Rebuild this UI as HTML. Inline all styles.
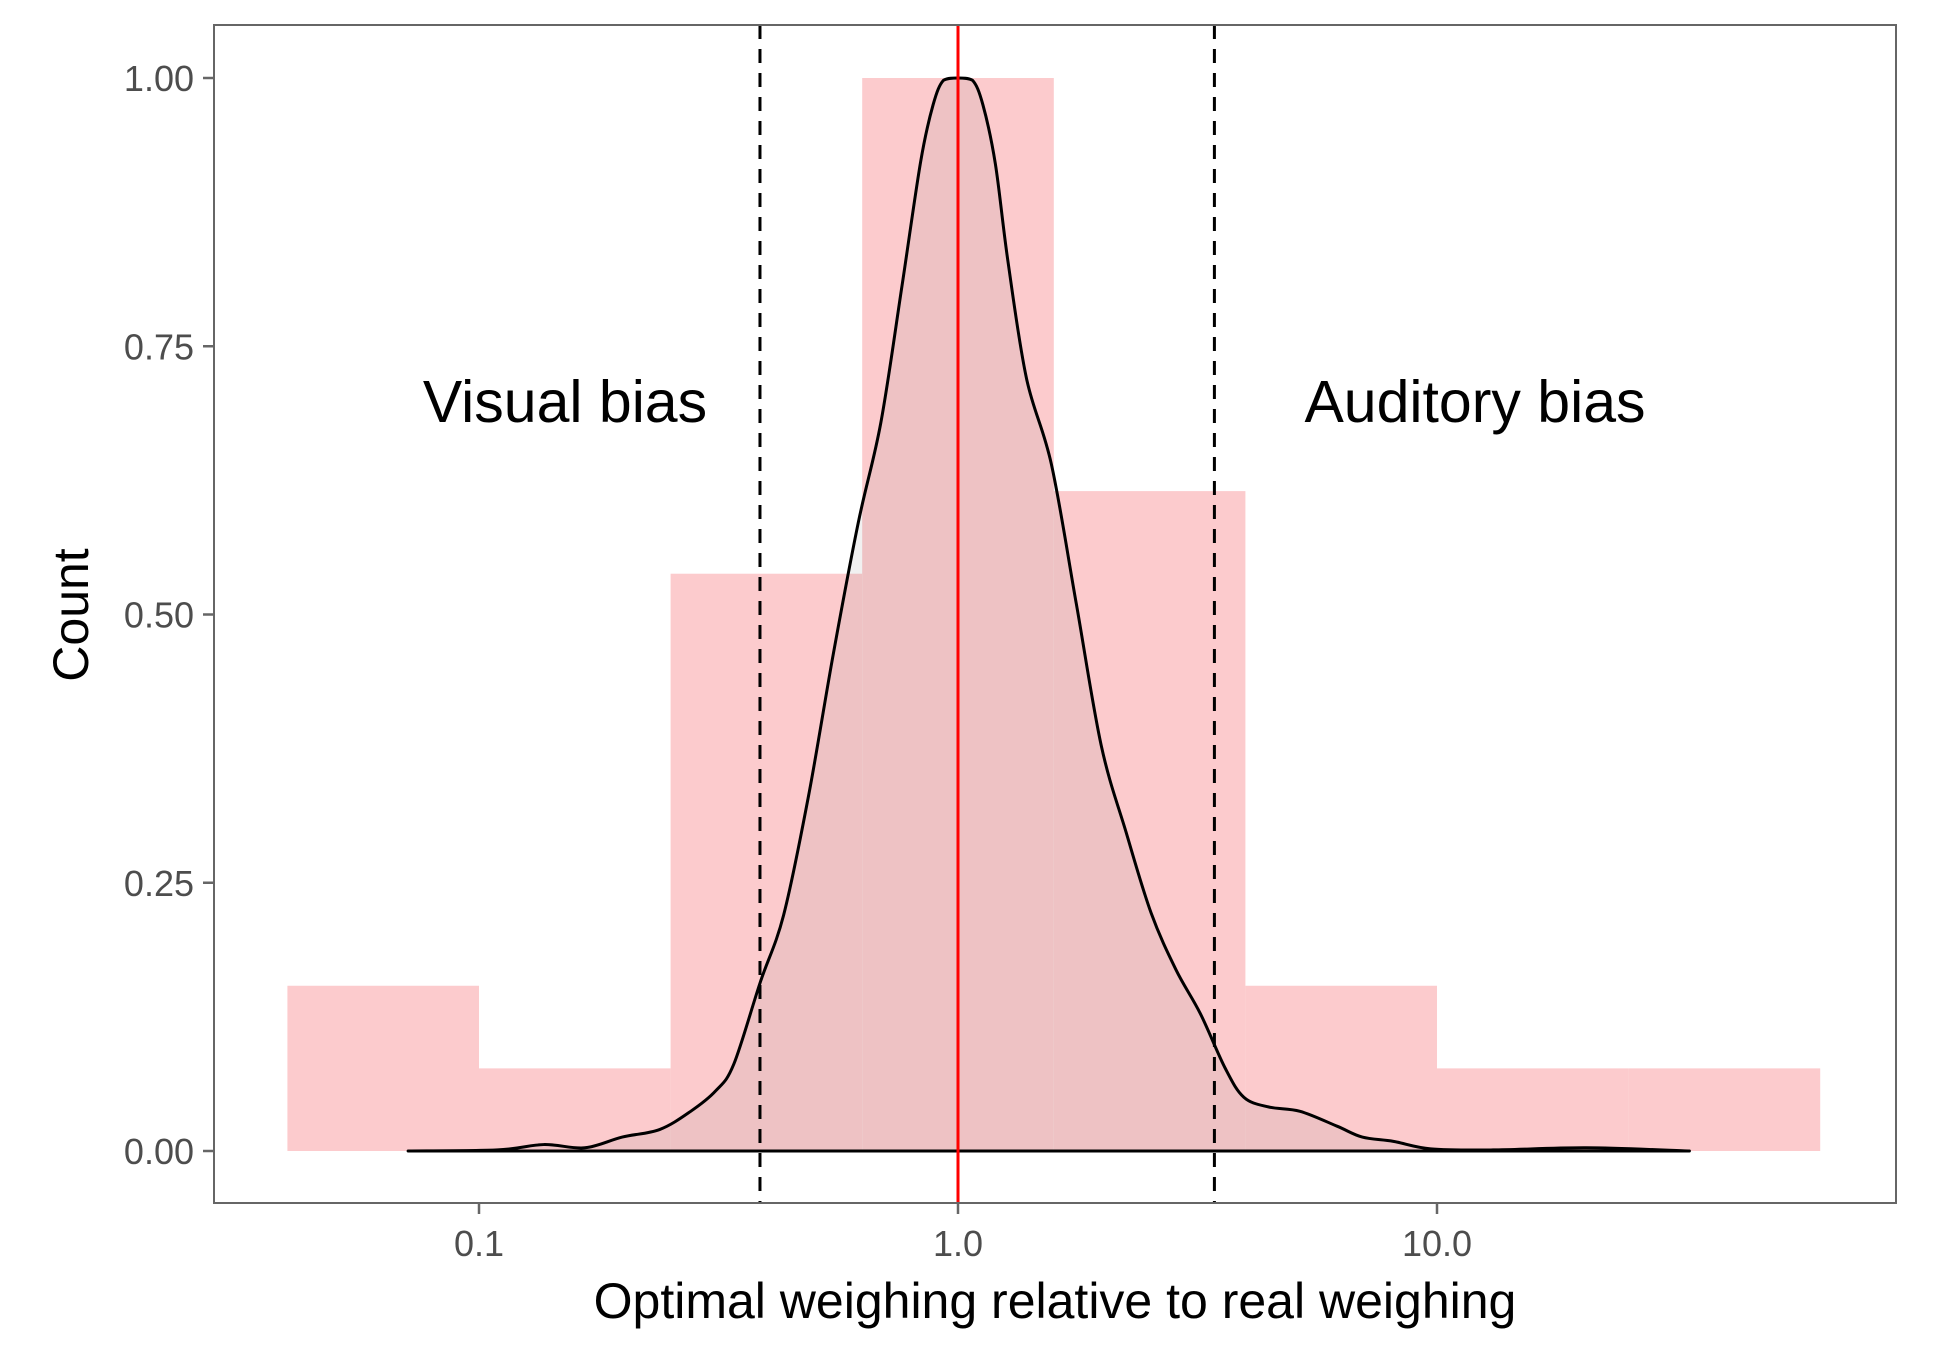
<!DOCTYPE html>
<html><head><meta charset="utf-8"><style>
html,body{margin:0;padding:0;background:#fff;}
svg{display:block;font-family:"Liberation Sans",Arial,sans-serif;}
</style></head><body>
<svg id="chart" width="1950" height="1350" viewBox="0 0 1950 1350">
<rect x="0" y="0" width="1950" height="1350" fill="#fff"/>
<g id="bars"></g>
<g id="dens"></g>
<g id="vlines"></g>
<rect x="214" y="25" width="1682" height="1178" fill="none" stroke="#666" stroke-width="2"/>
<g id="axes"></g>
<text x="565" y="422" font-size="59" text-anchor="middle" fill="#000">Visual bias</text>
<text x="1475" y="422" font-size="59" text-anchor="middle" fill="#000">Auditory bias</text>
<text x="1055" y="1318" font-size="50" text-anchor="middle" fill="#000">Optimal weighing relative to real weighing</text>
<text transform="translate(88,615) rotate(-90)" font-size="50" text-anchor="middle" fill="#000">Count</text>
</svg>
<script>
const binEdgesLog = [-1.4,-1.0,-0.6,-0.2,0.2,0.6,1.0,1.4,1.8];
const binHeights = [0.154,0.077,0.538,1.0,0.615,0.154,0.077,0.077];
const densX = [-1.148,-0.961,-0.865,-0.779,-0.701,-0.623,-0.558,-0.506,-0.468,-0.413,-0.364,-0.312,-0.260,-0.208,-0.161,-0.117,-0.078,-0.052,-0.030,0.0,0.030,0.052,0.078,0.104,0.143,0.195,0.247,0.299,0.351,0.403,0.455,0.506,0.558,0.597,0.649,0.714,0.792,0.844,0.909,0.987,1.117,1.312,1.527];
const densY = [0,0.001,0.006,0.003,0.013,0.020,0.037,0.056,0.081,0.157,0.220,0.331,0.464,0.586,0.679,0.806,0.922,0.975,0.998,1.0,0.998,0.975,0.920,0.830,0.720,0.640,0.510,0.378,0.297,0.222,0.169,0.128,0.077,0.050,0.041,0.037,0.023,0.013,0.009,0.002,0.001,0.003,0];
const dashedLinesX = [0.386,3.43];
const redLineX = [1.0];
const xTickValues = [0.1,1.0,10.0];
const xTickLabels = ["0.1","1.0","10.0"];
const yTickValues = [0,0.25,0.5,0.75,1.0];
const yTickLabels = ["0.00","0.25","0.50","0.75","1.00"];

const NS="http://www.w3.org/2000/svg";
const xs = l => 958 + l*479;
const ys = v => 1151 - v*1073;
function mk(tag,attrs,parent){const e=document.createElementNS(NS,tag);for(const k in attrs)e.setAttribute(k,attrs[k]);parent.appendChild(e);return e;}
const bars=document.getElementById('bars');
binHeights.forEach((h,i)=>{
  const r=mk('rect',{x:xs(binEdgesLog[i]),y:ys(h),width:xs(binEdgesLog[i+1])-xs(binEdgesLog[i]),height:ys(0)-ys(h),fill:'#FCCBCD'},bars);
  
  
});
const pts=densX.map((x,i)=>[xs(x),ys(densY[i])]);
let d=`M${pts[0][0]},${pts[0][1]}`;
for(let i=0;i<pts.length-1;i++){
  const p0=pts[Math.max(0,i-1)],p1=pts[i],p2=pts[i+1],p3=pts[Math.min(pts.length-1,i+2)];
  const c1=[p1[0]+(p2[0]-p0[0])/6,p1[1]+(p2[1]-p0[1])/6];
  const c2=[p2[0]-(p3[0]-p1[0])/6,p2[1]-(p3[1]-p1[1])/6];
  d+=` C${c1[0]},${Math.max(c1[1],ys(1))} ${c2[0]},${Math.max(c2[1],ys(1))} ${p2[0]},${p2[1]}`;
}
const dens=document.getElementById('dens');
const fillP=mk('path',{d:d+` L${pts[pts.length-1][0]},${ys(0)} L${pts[0][0]},${ys(0)} Z`,fill:'#7a7a7a','fill-opacity':'0.1',stroke:'none'},dens);


const lineP=mk('path',{d:d+` L${pts[0][0]},${ys(0)} Z`,fill:'none',stroke:'#000','stroke-width':'3','stroke-linejoin':'round'},dens);


const vl=document.getElementById('vlines');
dashedLinesX.forEach(v=>{
  const l=mk('line',{x1:xs(Math.log10(v)),x2:xs(Math.log10(v)),y1:25,y2:1203,stroke:'#000','stroke-width':'3','stroke-dasharray':'14,10'},vl);
  
  
});
redLineX.forEach(v=>{
  const l=mk('line',{x1:xs(Math.log10(v)),x2:xs(Math.log10(v)),y1:25,y2:1203,stroke:'#FF0000','stroke-width':'3'},vl);
  
  
});
const ax=document.getElementById('axes');
xTickValues.forEach((v,i)=>{
  const x=xs(Math.log10(v));
  const t=mk('line',{x1:x,x2:x,y1:1203,y2:1214,stroke:'#666','stroke-width':'2.5'},ax);
  
  
  const tx=mk('text',{x:x,y:1256,'font-size':'36','text-anchor':'middle',fill:'#4D4D4D'},ax);
  tx.textContent=xTickLabels[i];
  
  
});
yTickValues.forEach((v,i)=>{
  const y=ys(v);
  const t=mk('line',{x1:203,x2:214,y1:y,y2:y,stroke:'#666','stroke-width':'2.5'},ax);
  
  
  const tx=mk('text',{x:194,y:y+13,'font-size':'36','text-anchor':'end',fill:'#4D4D4D'},ax);
  tx.textContent=yTickLabels[i];
  
  
});
</script>
</body></html>
